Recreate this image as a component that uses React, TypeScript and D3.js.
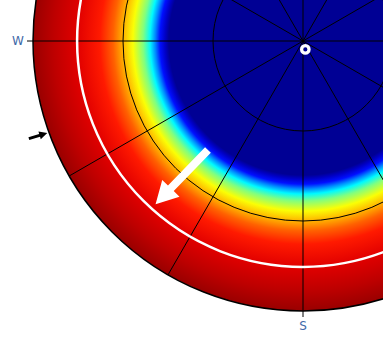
import React from "react";
import * as d3 from "d3";

// Radial brightness profile (zenith angle in degrees -> normalised value)
const profileZenith = [0, 44.7, 46, 47.7, 49.3, 51, 53.3, 56.7, 60, 63.3, 67.7, 75.3, 83.3, 90];
const profileValue = [0.02, 0.02, 0.07, 0.14, 0.26, 0.37, 0.5, 0.62, 0.7, 0.78, 0.85, 0.905, 0.94, 0.975];

// Grid
const gridZenith = [30, 60, 90];
const spokeAzimuths = [0, 30, 60, 90, 120, 150, 180, 210, 240, 270, 300, 330];
const cardinalAzimuths = [0, 90, 180, 270];
// Only the labels visible in the frame
const labelNames = ["S", "W"];
const labelAzimuths = [180, 270];

// Overlays
const whiteCircleZenith = 75.3;
const markerPoint = { az: 164.5, zen: 2.9 };
const whiteArrow = { from: { az: 221.1, zen: 48.2 }, to: { az: 222.1, zen: 73.3 } };
const blackArrow = { from: { az: 250.4, zen: 97.0 }, to: { az: 250.2, zen: 90.6 } };

const W = 383;
const H = 338;
const CX = 303;
const CY = 41;
const R = 270;

const jet = d3
  .scaleLinear<string>()
  .domain([0, 0.125, 0.375, 0.625, 0.875, 1])
  .range(["#000080", "#0000ff", "#00ffff", "#ffff00", "#ff0000", "#800000"])
  .interpolate(d3.interpolateRgb);

const rScale = d3.scaleLinear().domain([0, 90]).range([0, R]);

function project(az: number, zen: number): [number, number] {
  const r = rScale(zen);
  const a = (az * Math.PI) / 180;
  return [CX + r * Math.sin(a), CY - r * Math.cos(a)];
}

function arrowPolygon(
  p0: [number, number],
  p1: [number, number],
  shaftW: number,
  headW: number,
  headL: number
): string {
  const dx = p1[0] - p0[0];
  const dy = p1[1] - p0[1];
  const len = Math.hypot(dx, dy);
  const ux = dx / len;
  const uy = dy / len;
  const nx = -uy;
  const ny = ux;
  const bx = p1[0] - ux * headL;
  const by = p1[1] - uy * headL;
  const pts: [number, number][] = [
    [p0[0] + nx * shaftW / 2, p0[1] + ny * shaftW / 2],
    [bx + nx * shaftW / 2, by + ny * shaftW / 2],
    [bx + nx * headW / 2, by + ny * headW / 2],
    [p1[0], p1[1]],
    [bx - nx * headW / 2, by - ny * headW / 2],
    [bx - nx * shaftW / 2, by - ny * shaftW / 2],
    [p0[0] - nx * shaftW / 2, p0[1] - ny * shaftW / 2],
  ];
  return pts.map((p) => p.join(",")).join(" ");
}

export default function App() {
  const wa0 = project(whiteArrow.from.az, whiteArrow.from.zen);
  const wa1 = project(whiteArrow.to.az, whiteArrow.to.zen);
  const ba0 = project(blackArrow.from.az, blackArrow.from.zen);
  const ba1 = project(blackArrow.to.az, blackArrow.to.zen);
  const mk = project(markerPoint.az, markerPoint.zen);

  return (
    <svg
      width={W}
      height={H}
      style={{ position: "absolute", left: 0, top: 0, background: "#fff" }}
    >
      <defs>
        <radialGradient id="sky" gradientUnits="userSpaceOnUse" cx={CX} cy={CY} r={R}>
          {profileZenith.map((z, i) => (
            <stop key={i} offset={z / 90} stopColor={jet(profileValue[i])} />
          ))}
        </radialGradient>
      </defs>
      <circle cx={CX} cy={CY} r={R} fill="url(#sky)" />
      {gridZenith.slice(0, -1).map((z) => (
        <circle key={z} cx={CX} cy={CY} r={rScale(z)} fill="none" stroke="#000" strokeWidth={1} />
      ))}
      {spokeAzimuths.map((az) => {
        const end = project(az, cardinalAzimuths.includes(az) ? 92 : 90);
        return (
          <line key={az} x1={CX} y1={CY} x2={end[0]} y2={end[1]} stroke="#000" strokeWidth={1} />
        );
      })}
      <circle cx={CX} cy={CY} r={rScale(whiteCircleZenith)} fill="none" stroke="#fff" strokeWidth={2.5} />
      <circle cx={CX} cy={CY} r={R} fill="none" stroke="#000" strokeWidth={1.5} />
      {labelAzimuths.map((az, i) => {
        const p = project(az, 95);
        return (
          <text
            key={az}
            x={p[0]}
            y={p[1]}
            textAnchor="middle"
            dominantBaseline="central"
            fontFamily="DejaVu Sans, sans-serif"
            fontSize={12}
            fill="#4169a8"
          >
            {labelNames[i]}
          </text>
        );
      })}
      <polygon points={arrowPolygon(wa0, wa1, 8, 24, 22)} fill="#fff" />
      <polygon points={arrowPolygon(ba0, ba1, 3, 8, 8)} fill="#000" />
      <circle cx={mk[0]} cy={mk[1]} r={3.7} fill="none" stroke="#fff" strokeWidth={3.3} />
    </svg>
  );
}
